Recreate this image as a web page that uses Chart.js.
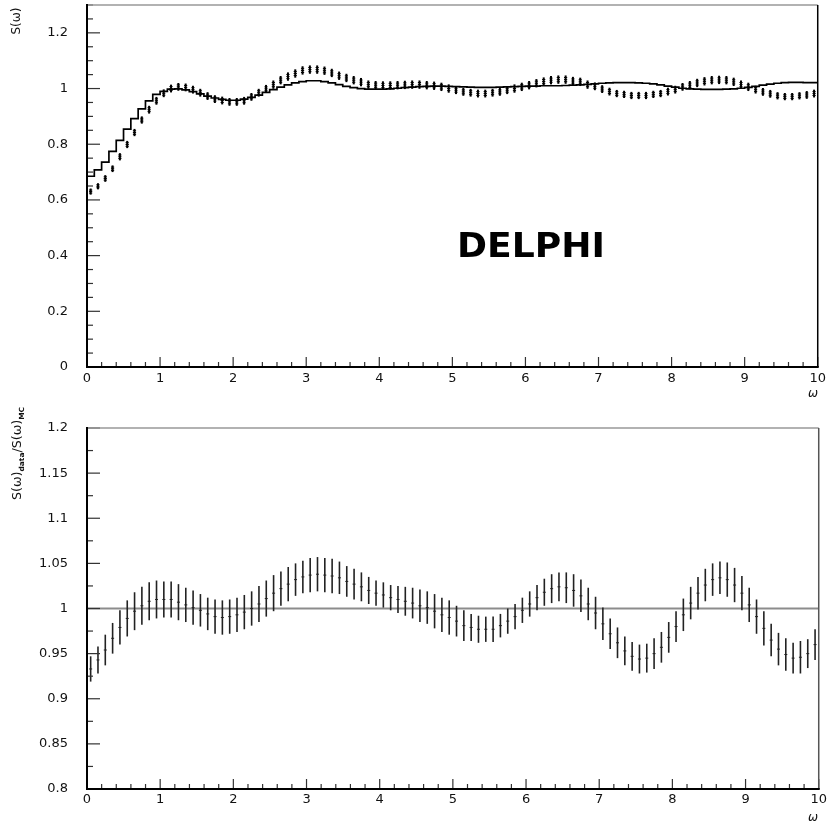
<!DOCTYPE html>
<html>
<head>
<meta charset="utf-8">
<script src="https://cdn.jsdelivr.net/npm/chart.js@4.4.1/dist/chart.umd.min.js"></script>
<style>
  body { margin: 0; background: #fff; }
  #wrap { position: relative; width: 830px; height: 825px; }
  canvas { position: absolute; left: 0; }
</style>
</head>
<body>
<div id="wrap">
  <canvas id="topChart" width="830" height="400" style="top:0"></canvas>
  <canvas id="ratioChart" width="830" height="425" style="top:400px"></canvas>
</div>
<script>
// bin centres in omega
const omega = [
  0.05,0.15,0.25,0.35,0.45,0.55,0.65,0.75,0.85,0.95,
  1.05,1.15,1.25,1.35,1.45,1.55,1.65,1.75,1.85,1.95,
  2.05,2.15,2.25,2.35,2.45,2.55,2.65,2.75,2.85,2.95,
  3.05,3.15,3.25,3.35,3.45,3.55,3.65,3.75,3.85,3.95,
  4.05,4.15,4.25,4.35,4.45,4.55,4.65,4.75,4.85,4.95,
  5.05,5.15,5.25,5.35,5.45,5.55,5.65,5.75,5.85,5.95,
  6.05,6.15,6.25,6.35,6.45,6.55,6.65,6.75,6.85,6.95,
  7.05,7.15,7.25,7.35,7.45,7.55,7.65,7.75,7.85,7.95,
  8.05,8.15,8.25,8.35,8.45,8.55,8.65,8.75,8.85,8.95,
  9.05,9.15,9.25,9.35,9.45,9.55,9.65,9.75,9.85,9.95
];
const binHalf = 0.05;

// S(omega) Monte Carlo (histogram)
const sMC = [
  0.673,0.685,0.708,0.736,0.774,0.814,0.854,0.892,0.927,0.956,
  0.979,0.990,0.998,0.999,0.995,0.989,0.981,0.973,0.966,0.961,
  0.958,0.958,0.962,0.968,0.976,0.986,0.996,1.005,1.013,1.020,
  1.025,1.028,1.028,1.025,1.020,1.014,1.008,1.003,1.000,0.998,
  0.998,0.998,0.999,1.001,1.003,1.005,1.007,1.008,1.009,1.009,
  1.008,1.007,1.006,1.005,1.004,1.004,1.004,1.005,1.006,1.007,
  1.008,1.009,1.009,1.010,1.010,1.010,1.011,1.012,1.013,1.015,
  1.017,1.019,1.020,1.021,1.021,1.021,1.020,1.019,1.017,1.013,
  1.009,1.005,1.001,0.999,0.998,0.997,0.997,0.997,0.998,0.999,
  1.001,1.004,1.008,1.012,1.016,1.019,1.021,1.022,1.022,1.021
];

// S(omega) data points and errors
const sData = [
  0.630,0.649,0.677,0.712,0.755,0.799,0.842,0.887,0.924,0.956,
  0.983,1.000,1.006,1.004,0.996,0.985,0.973,0.962,0.957,0.952,
  0.952,0.956,0.970,0.985,0.999,1.014,1.030,1.043,1.054,1.065,
  1.068,1.068,1.064,1.056,1.046,1.038,1.030,1.023,1.014,1.012,
  1.011,1.011,1.012,1.013,1.014,1.014,1.012,1.010,1.006,1.000,
  0.994,0.988,0.985,0.982,0.982,0.985,0.988,0.994,1.000,1.006,
  1.012,1.019,1.025,1.030,1.032,1.032,1.027,1.024,1.014,1.008,
  0.998,0.989,0.982,0.979,0.975,0.975,0.975,0.979,0.982,0.989,
  0.996,1.006,1.012,1.020,1.026,1.030,1.031,1.030,1.024,1.014,
  1.006,0.996,0.988,0.981,0.974,0.971,0.971,0.974,0.977,0.982
];
const sDataErr = [
  0.011,0.011,0.012,0.012,0.013,0.013,0.013,0.013,0.014,0.014,
  0.014,0.014,0.014,0.014,0.014,0.014,0.014,0.014,0.014,0.014,
  0.014,0.014,0.014,0.014,0.014,0.015,0.015,0.015,0.015,0.015,
  0.015,0.015,0.015,0.015,0.015,0.015,0.015,0.015,0.015,0.015,
  0.015,0.015,0.015,0.015,0.015,0.015,0.015,0.015,0.015,0.015,
  0.014,0.014,0.014,0.014,0.014,0.014,0.014,0.014,0.015,0.015,
  0.015,0.015,0.015,0.015,0.015,0.015,0.015,0.015,0.015,0.014,
  0.014,0.014,0.013,0.013,0.013,0.013,0.013,0.013,0.013,0.014,
  0.014,0.014,0.015,0.015,0.015,0.015,0.015,0.015,0.015,0.015,
  0.015,0.014,0.014,0.014,0.013,0.013,0.013,0.013,0.014,0.014
];

// S(omega)_data / S(omega)_MC
const ratio = [
  0.933,0.943,0.954,0.967,0.979,0.989,0.997,1.003,1.008,1.010,
  1.010,1.010,1.007,1.004,1.001,0.998,0.994,0.991,0.990,0.991,
  0.993,0.996,1.000,1.005,1.011,1.017,1.022,1.027,1.032,1.035,
  1.037,1.038,1.037,1.036,1.034,1.030,1.027,1.024,1.020,1.017,
  1.015,1.012,1.010,1.008,1.006,1.003,1.001,0.997,0.993,0.990,
  0.986,0.981,0.979,0.977,0.977,0.977,0.981,0.986,0.991,0.998,
  1.005,1.012,1.018,1.022,1.024,1.023,1.020,1.014,1.005,0.995,
  0.983,0.972,0.962,0.953,0.947,0.944,0.945,0.950,0.957,0.968,
  0.980,0.993,1.006,1.017,1.026,1.032,1.034,1.032,1.026,1.017,
  1.004,0.991,0.978,0.965,0.955,0.949,0.945,0.946,0.950,0.960
];
const ratioErr = [
  0.014,0.015,0.017,0.017,0.019,0.020,0.021,0.021,0.021,0.021,
  0.020,0.020,0.020,0.019,0.019,0.018,0.018,0.019,0.019,0.019,
  0.019,0.019,0.019,0.020,0.020,0.020,0.019,0.019,0.018,0.018,
  0.019,0.019,0.019,0.019,0.018,0.017,0.017,0.016,0.015,0.014,
  0.014,0.014,0.015,0.016,0.017,0.018,0.018,0.019,0.019,0.019,
  0.017,0.017,0.015,0.015,0.014,0.014,0.013,0.014,0.014,0.014,
  0.014,0.014,0.015,0.016,0.016,0.017,0.018,0.018,0.018,0.018,
  0.018,0.017,0.017,0.016,0.016,0.016,0.016,0.017,0.017,0.017,
  0.017,0.018,0.018,0.018,0.018,0.018,0.018,0.019,0.019,0.019,
  0.019,0.019,0.019,0.018,0.018,0.018,0.017,0.018,0.016,0.017
];

const FAM = '"DejaVu Sans", sans-serif';
Chart.defaults.font.family = FAM;
Chart.defaults.color = '#111';

function isMajor(v, step) {
  const r = v / step;
  return Math.abs(r - Math.round(r)) < 1e-6;
}
function fmt(v) { return String(parseFloat(v.toFixed(3))); }
function seg(ctx, x0, y0, x1, y1) {
  ctx.beginPath(); ctx.moveTo(x0, y0); ctx.lineTo(x1, y1); ctx.stroke();
}

// histogram edges for the stepped MC line
const mcSteps = omega.map((w, i) => ({ x: w - binHalf, y: sMC[i] }));
mcSteps.push({ x: omega[omega.length - 1] + binHalf, y: sMC[sMC.length - 1] });

// error bars drawn through the chart scales
const errorBars = {
  id: 'errorBars',
  afterDatasetsDraw(chart) {
    const { ctx, scales: { x, y } } = chart;
    chart.data.datasets.forEach(ds => {
      if (!ds.errors) return;
      ctx.save();
      ctx.strokeStyle = ds.barColor;
      ds.data.forEach((p, i) => {
        const px = x.getPixelForValue(p.x);
        const yl = y.getPixelForValue(p.y - ds.errors[i]);
        const yh = y.getPixelForValue(p.y + ds.errors[i]);
        const yc = y.getPixelForValue(p.y);
        ctx.lineWidth = ds.barWidth;
        seg(ctx, px, yl, px, yh);
        ctx.lineWidth = 1;
        seg(ctx, px - ds.capHalf, yc, px + ds.capHalf, yc);
        if (ds.crossTicks) {
          const d = (yl - yh) / 4;
          seg(ctx, px - ds.capHalf, yc - d, px + ds.capHalf, yc - d);
          seg(ctx, px - ds.capHalf, yc + d, px + ds.capHalf, yc + d);
        }
      });
      ctx.restore();
    });
  }
};

// HBOOK-style frame with inward ticks
const frame = {
  id: 'frame',
  beforeDatasetsDraw(chart, args, o) {
    if (o.refLine === undefined || o.refLine === null) return;
    const { ctx, chartArea: a, scales: { y } } = chart;
    const py = y.getPixelForValue(o.refLine);
    ctx.save();
    ctx.strokeStyle = '#8c8c8c';
    ctx.lineWidth = 2;
    seg(ctx, a.left, py, a.right, py);
    ctx.restore();
  },
  afterDraw(chart, args, o) {
    const { ctx, chartArea: a, scales: { x, y } } = chart;
    ctx.save();
    ctx.strokeStyle = '#333';
    ctx.lineWidth = 1.2;
    y.ticks.forEach(t => {
      const py = y.getPixelForValue(t.value);
      seg(ctx, a.left, py, a.left + (isMajor(t.value, o.yMajor) ? 13 : 6), py);
    });
    x.ticks.forEach(t => {
      const px = x.getPixelForValue(t.value);
      seg(ctx, px, a.bottom, px, a.bottom - (isMajor(t.value, 1) ? 10 : 5));
    });
    ctx.lineWidth = 1.5;
    ctx.strokeStyle = '#999';
    seg(ctx, a.left, a.top, a.right, a.top);
    ctx.strokeStyle = o.rightColor;
    seg(ctx, a.right, a.top, a.right, a.bottom);
    ctx.strokeStyle = '#000';
    ctx.lineWidth = 2;
    seg(ctx, a.left, a.top - 1, a.left, a.bottom + 1);
    seg(ctx, a.left - 1, a.bottom, a.right + 1, a.bottom);
    ctx.fillStyle = '#111';
    ctx.font = 'italic 12px ' + FAM;
    ctx.textAlign = 'center';
    ctx.textBaseline = 'middle';
    ctx.fillText('ω', o.omegaX, o.omegaY);
    ctx.restore();
  }
};

function scaleOpts(min, max, step, majorStep, size, pad, horizontal) {
  return {
    type: 'linear', min: min, max: max, bounds: 'data',
    afterFit: s => {
      if (horizontal) s.height = size; else s.width = size;
      // keep the plot box where the layout padding puts it
      s.paddingTop = 0; s.paddingBottom = 0;
      if (!horizontal) { s.paddingLeft = 0; s.paddingRight = 0; }
    },
    grid: { display: false, drawTicks: false, tickLength: 0 },
    border: { display: false },
    ticks: {
      stepSize: step, autoSkip: false, includeBounds: false,
      maxRotation: 0, minRotation: 0, padding: pad,
      color: '#111', font: { family: FAM, size: 13 },
      callback: v => isMajor(v, majorStep) ? fmt(v) : ''
    }
  };
}

// top panel: S(omega)
new Chart(document.getElementById('topChart'), {
  type: 'line',
  data: {
    datasets: [
      { data: mcSteps, stepped: 'after', borderColor: '#000', borderWidth: 1.7, pointRadius: 0, fill: false },
      { data: omega.map((w, i) => ({ x: w, y: sData[i] })), showLine: false, pointRadius: 0,
        errors: sDataErr, barColor: '#000', barWidth: 2, capHalf: 1.6, crossTicks: true }
    ]
  },
  options: {
    responsive: false, animation: false, events: [],
    layout: { padding: { top: 5, right: 10, left: 0, bottom: 0 } },
    plugins: {
      legend: { display: false }, tooltip: { enabled: false },
      frame: { yMajor: 0.2, rightColor: '#000', omegaX: 813, omegaY: 394 }
    },
    scales: {
      x: scaleOpts(0, 10, 0.2, 1, 33, 4, true),
      y: scaleOpts(0, 1.3, 0.05, 0.2, 87, 19, false)
    }
  },
  plugins: [errorBars, frame, {
    id: 'topText',
    afterDraw(chart) {
      const ctx = chart.ctx;
      ctx.save();
      ctx.fillStyle = '#111';
      ctx.font = '12px ' + FAM;
      ctx.translate(20, 21);
      ctx.rotate(-Math.PI / 2);
      ctx.textAlign = 'center';
      ctx.textBaseline = 'alphabetic';
      ctx.fillText('S(ω)', 0, 0);
      ctx.restore();

      ctx.save();
      ctx.fillStyle = '#000';
      ctx.font = 'bold 34px ' + FAM;
      const w = ctx.measureText('DELPHI').width;
      ctx.translate(457, 257);
      ctx.scale(148 / w, 1);
      ctx.textBaseline = 'alphabetic';
      ctx.fillText('DELPHI', 0, 0);
      ctx.restore();
    }
  }]
});

// bottom panel: ratio data / MC
new Chart(document.getElementById('ratioChart'), {
  type: 'line',
  data: {
    datasets: [
      { data: omega.map((w, i) => ({ x: w, y: ratio[i] })), showLine: false, pointRadius: 0,
        errors: ratioErr, barColor: '#222', barWidth: 1.6, capHalf: 1.5 }
    ]
  },
  options: {
    responsive: false, animation: false, events: [],
    layout: { padding: { top: 28, right: 10, left: 0, bottom: 0 } },
    plugins: {
      legend: { display: false }, tooltip: { enabled: false },
      frame: { yMajor: 0.05, refLine: 1, rightColor: '#555', omegaX: 813, omegaY: 418 }
    },
    scales: {
      x: scaleOpts(0, 10, 0.2, 1, 36, 3, true),
      y: scaleOpts(0.8, 1.2, 0.025, 0.05, 87, 19, false)
    }
  },
  plugins: [errorBars, frame, {
    id: 'ratioTitle',
    afterDraw(chart) {
      const ctx = chart.ctx;
      const parts = [
        ['S(ω)', '12px ', 0], ['data', 'bold 7px ', 3],
        ['/S(ω)', '12px ', 0], ['MC', 'bold 7px ', 3]
      ];
      ctx.save();
      ctx.fillStyle = '#111';
      let total = 0;
      parts.forEach(p => { ctx.font = p[1] + FAM; total += ctx.measureText(p[0]).width; });
      ctx.translate(21, 100);
      ctx.rotate(-Math.PI / 2);
      ctx.scale(93 / total, 1);
      ctx.textBaseline = 'alphabetic';
      let pos = 0;
      parts.forEach(p => {
        ctx.font = p[1] + FAM;
        ctx.fillText(p[0], pos, p[2]);
        pos += ctx.measureText(p[0]).width;
      });
      ctx.restore();
    }
  }]
});
</script>
</body>
</html>
